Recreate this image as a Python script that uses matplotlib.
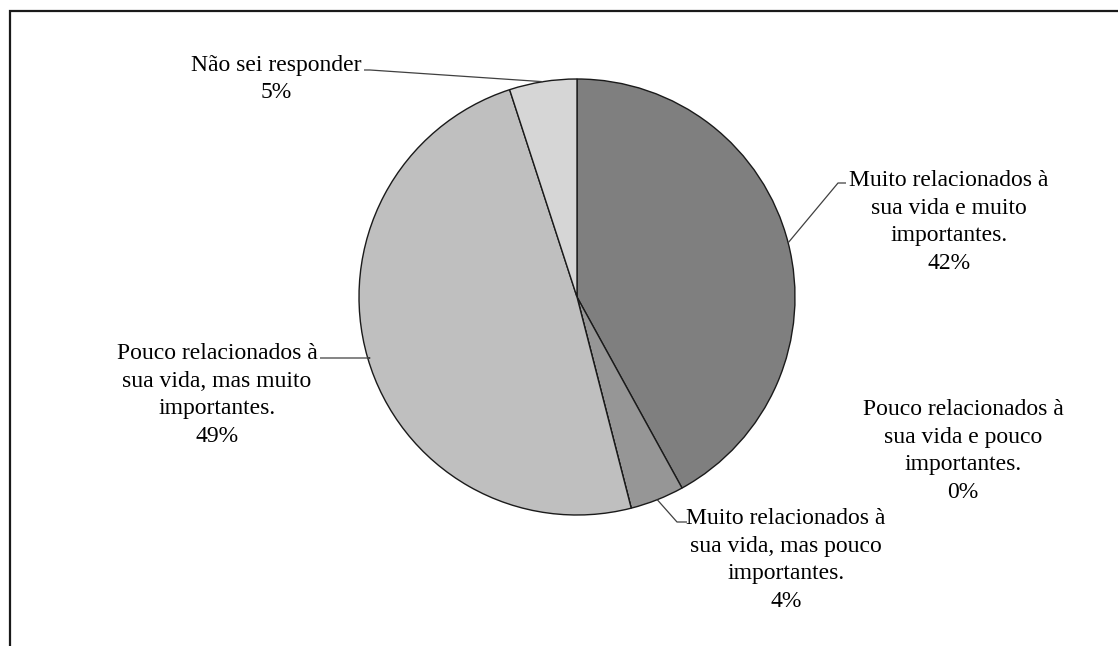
import matplotlib
matplotlib.use("Agg")
import matplotlib.pyplot as plt
import numpy as np

# Survey answers and their shares (%)
categories = [
    "Muito relacionados à\nsua vida e muito\nimportantes.",
    "Muito relacionados à\nsua vida, mas pouco\nimportantes.",
    "Pouco relacionados à\nsua vida e pouco\nimportantes.",
    "Pouco relacionados à\nsua vida, mas muito\nimportantes.",
    "Não sei responder",
]
shares = [42, 4, 0, 49, 5]
colors = ["#7f7f7f", "#969696", "#a6a6a6", "#bfbfbf", "#d6d6d6"]

W, H = 1118, 646
fig = plt.figure(figsize=(W / 100, H / 100), dpi=100)
ax = fig.add_axes([0, 0, 1, 1])

plt.rcParams["font.family"] = ["Liberation Serif", "DejaVu Serif"]

cx, cy, R = 577, H - 297, 218

wedges, _ = ax.pie(shares, colors=colors, startangle=90, counterclock=False,
                   center=(cx, cy), radius=R,
                   wedgeprops=dict(edgecolor="#1a1a1a", linewidth=1.0))

ax.set_xlim(0, W)
ax.set_ylim(0, H)
ax.set_aspect("equal")
ax.axis("off")

# label layout: text centre, leader elbow, leader end near text (pixel coords, y down)
layout = [
    dict(text=(949, 222), elbow=(838, 183), end=(846, 183)),
    dict(text=(786, 560), elbow=(677, 522), end=(687, 522)),
    dict(text=(963, 451), elbow=None, end=None),
    dict(text=(217, 395), elbow=(370, 358), end=(320, 358)),
    dict(text=(276, 79), elbow=(370, 70), end=(364, 70)),
]

total = sum(shares)
cum = 0.0
for cat, val, lay in zip(categories, shares, layout):
    mid = (cum + val / 2) / total * 360.0
    cum += val
    tx, ty = lay["text"]
    ax.text(tx, H - ty, f"{cat}\n{val}%", ha="center", va="center",
            fontsize=17, color="#000000", linespacing=1.42,
            family=["Liberation Serif", "DejaVu Serif"])
    if lay["elbow"] is None:
        continue
    ang = np.deg2rad(mid)
    px = cx + R * np.sin(ang)
    py = cy + R * np.cos(ang)
    ex, ey = lay["elbow"]
    nx, ny = lay["end"]
    ax.plot([px, ex, nx], [py, H - ey, H - ny], color="#404040",
            linewidth=0.9, solid_capstyle="butt")

# outer frame (runs off the right and bottom edges)
ax.plot([10, 10, W + 5], [-5, H - 11, H - 11], color="#1a1a1a",
        linewidth=1.6, solid_joinstyle="miter", clip_on=False)

fig.savefig("out.png", dpi=100, facecolor="white")
